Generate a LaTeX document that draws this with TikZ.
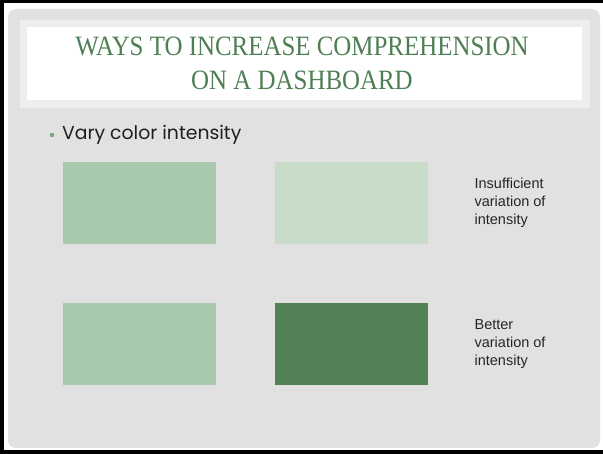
\documentclass[tikz,border=0pt]{standalone}
\usepackage{fontspec}
\setmainfont{Liberation Serif}
\newfontfamily\bodyfont{Poppins}
\newfontfamily\notefont{Liberation Sans}
\usetikzlibrary{positioning}
\definecolor{panelgrey}{HTML}{E1E1E1}
\definecolor{bandgrey}{HTML}{EEEEEE}
\definecolor{titlegreen}{HTML}{4E7F54}
\definecolor{dotgreen}{HTML}{76A67D}
\definecolor{swatchmid}{HTML}{A9C9AE}
\definecolor{swatchpale}{HTML}{C8DCC9}
\definecolor{swatchdark}{HTML}{538157}
\tikzset{
	swatch/.style={
		rectangle,
		minimum width=153pt,
		minimum height=82pt,
		inner sep=0pt,
		anchor=north west},
	note/.style={
		font=\notefont\fontsize{14.5}{18}\selectfont,
		text=black!85,
		align=left,
		inner sep=0pt,
		anchor=west},
	headline/.style={
		font=\fontsize{28}{34}\selectfont,
		text=titlegreen,
		xscale=0.89,
		inner sep=0pt,
		anchor=base},
}

\begin{document}
\begin{tikzpicture}[x=1pt,y=-1pt]
	\useasboundingbox (0,0) rectangle (603,454);
	% slide frame and panel
	\draw[line width=3.5pt] (603,1.75) -- (1.75,1.75) -- (1.75,452.25) -- (603,452.25);
	\fill[panelgrey, rounded corners=8pt] (8,9) rectangle (600,448);
	\fill[bandgrey] (20,20) rectangle (590,108);
	\fill[white] (27,27) rectangle (582,100);
	% title
	\node[headline] (title1) at (302,56) {WAYS TO INCREASE COMPREHENSION};
	\node[headline] (title2) at (302,90) {ON A DASHBOARD};
	% bullet
	\fill[dotgreen] (52,135) circle (2.2pt);
	\node[font=\bodyfont\fontsize{18.8}{22}\selectfont, text=black!88, inner sep=0pt, anchor=base west] (bullet) at (62,140) {Vary color intensity};
	% swatches
	\node[swatch, fill=swatchmid]  (a1) at (63,162) {};
	\node[swatch, fill=swatchpale] (a2) at (275,162) {};
	\node[swatch, fill=swatchmid]  (b1) at (63,303) {};
	\node[swatch, fill=swatchdark] (b2) at (275,303) {};
	\node[note, right=46pt of a2] (weak) {Insufficient\\variation of\\intensity};
	\node[note, right=46pt of b2] (strong) {Better\\variation of\\intensity};
\end{tikzpicture}
\end{document}
